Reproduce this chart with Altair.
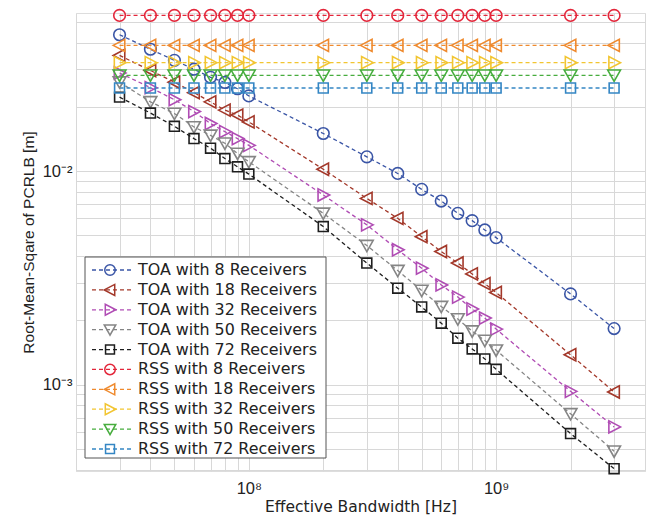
import altair as alt
import pandas as pd

bandwidth = [3e7, 4e7, 5e7, 6e7, 7e7, 8e7, 9e7, 1e8, 2e8, 3e8, 4e8, 5e8, 6e8, 7e8, 8e8, 9e8, 1e9, 2e9, 3e9]

series_names = [
    "TOA with 8 Receivers", "TOA with 18 Receivers", "TOA with 32 Receivers",
    "TOA with 50 Receivers", "TOA with 72 Receivers",
    "RSS with 8 Receivers", "RSS with 18 Receivers", "RSS with 32 Receivers",
    "RSS with 50 Receivers", "RSS with 72 Receivers",
]

toa_8 = [0.0435, 0.0372, 0.0330, 0.0300, 0.0275, 0.0260, 0.0243, 0.0225, 0.0150, 0.01166, 0.00975,
         0.00821, 0.00724, 0.00634, 0.00586, 0.0053, 0.00488, 0.00266, 0.00183]
toa_18 = [0.0348, 0.0296, 0.0261, 0.0233, 0.0211, 0.0193, 0.0183, 0.0170, 0.0102, 0.00745, 0.00601,
          0.00493, 0.0042, 0.00371, 0.0033, 0.00297, 0.0027, 0.00138, 0.000924]
toa_32 = [0.0288, 0.0246, 0.0216, 0.0190, 0.0167, 0.0153, 0.0142, 0.0132, 0.00773, 0.0056, 0.00428,
          0.00351, 0.00293, 0.00257, 0.00226, 0.00205, 0.00182, 0.00093, 0.000634]
toa_50 = [0.0261, 0.0211, 0.0186, 0.0161, 0.0147, 0.0135, 0.0121, 0.01105, 0.00634, 0.00448, 0.00342,
          0.00276, 0.00232, 0.00203, 0.00178, 0.00161, 0.00145, 0.00073, 0.000488]
toa_72 = [0.0222, 0.0187, 0.0162, 0.0142, 0.0128, 0.01145, 0.01047, 0.00968, 0.0055, 0.00371, 0.00283,
          0.00231, 0.00194, 0.00165, 0.00147, 0.00132, 0.00118, 0.00059, 0.000404]
rss_8 = [0.0536, 0.0536, 0.0536, 0.0536, 0.0536, 0.0536, 0.0536, 0.0536, 0.0536, 0.0536, 0.0536,
         0.0536, 0.0536, 0.0536, 0.0536, 0.0536, 0.0536, 0.0536, 0.0536]
rss_18 = [0.0388, 0.0388, 0.0388, 0.0388, 0.0388, 0.0388, 0.0388, 0.0388, 0.0388, 0.0388, 0.0388,
          0.0388, 0.0388, 0.0388, 0.0388, 0.0388, 0.0388, 0.0388, 0.0388]
rss_32 = [0.0322, 0.0322, 0.0322, 0.0322, 0.0322, 0.0322, 0.0322, 0.0322, 0.0322, 0.0322, 0.0322,
          0.0322, 0.0322, 0.0322, 0.0322, 0.0322, 0.0322, 0.0322, 0.0322]
rss_50 = [0.0281, 0.0281, 0.0281, 0.0281, 0.0281, 0.0281, 0.0281, 0.0281, 0.0281, 0.0281, 0.0281,
          0.0281, 0.0281, 0.0281, 0.0281, 0.0281, 0.0281, 0.0281, 0.0281]
rss_72 = [0.0245, 0.0245, 0.0245, 0.0245, 0.0245, 0.0245, 0.0245, 0.0245, 0.0245, 0.0245, 0.0245,
          0.0245, 0.0245, 0.0245, 0.0245, 0.0245, 0.0245, 0.0245, 0.0245]

series_values = [toa_8, toa_18, toa_32, toa_50, toa_72, rss_8, rss_18, rss_32, rss_50, rss_72]

series_colors = ["#3a55a6", "#a3382a", "#b04cb4", "#858585", "#1e1e1e",
                 "#e3263a", "#ef8a2e", "#f2c531", "#47ad3e", "#3486c4"]

# marker outlines (custom symbol paths)
circle = "M1,0A1,1,0,1,1,-1,0A1,1,0,1,1,1,0Z"
tri_left = "M-1.1,0L0.9,-1.05L0.9,1.05Z"
tri_right = "M1.1,0L-0.9,-1.05L-0.9,1.05Z"
tri_down = "M0,1.05L-1.1,-0.9L1.1,-0.9Z"
square = "M-0.85,-0.85H0.85V0.85H-0.85Z"
series_shapes = [circle, tri_left, tri_right, tri_down, square,
                 circle, tri_left, tri_right, tri_down, square]

x_grid = [2e7, 3e7, 4e7, 5e7, 6e7, 7e7, 8e7, 9e7,
          1e8, 2e8, 3e8, 4e8, 5e8, 6e8, 7e8, 8e8, 9e8,
          1e9, 2e9, 3e9, 4e9]
y_grid = [4e-4, 5e-4, 6e-4, 7e-4, 8e-4, 9e-4,
          1e-3, 2e-3, 3e-3, 4e-3, 5e-3, 6e-3, 7e-3, 8e-3, 9e-3,
          1e-2, 2e-2, 3e-2, 4e-2, 5e-2]

rows = []
for name, vals in zip(series_names, series_values):
    for b, v in zip(bandwidth, vals):
        rows.append({"series": name, "bw": b, "val": v})
df = pd.DataFrame(rows)
legend_df = pd.DataFrame({"series": series_names})
box_df = pd.DataFrame({"k": [0]})

x_enc = alt.X(
    "bw:Q",
    scale=alt.Scale(type="log", domain=[2e7, 4e9], nice=False),
    axis=alt.Axis(
        values=x_grid,
        labelExpr="abs(log(datum.value)/LN10 - 8) < 1e-6 ? '10⁸' : (abs(log(datum.value)/LN10 - 9) < 1e-6 ? '10⁹' : '')",
        title="Effective Bandwidth [Hz]",
        labelFont="Liberation Sans", labelFontSize=16.5, labelColor="#222",
        labelPadding=9, titleFont="DejaVu Sans", titleFontSize=15.5,
        titleFontWeight="normal", titleColor="#222", titlePadding=3,
        grid=True, gridColor="#d8d8d8", ticks=False, domain=False, labelFlush=False,
    ),
)
y_scale = alt.Scale(type="log", domain=[3.94e-4, 0.055], nice=False)
y_enc = alt.Y(
    "val:Q",
    scale=y_scale,
    axis=alt.Axis(
        values=y_grid,
        labelExpr="abs(log(datum.value)/LN10 + 2) < 1e-6 ? '10⁻²' : (abs(log(datum.value)/LN10 + 3) < 1e-6 ? '10⁻³' : '')",
        title="Root-Mean-Sqare of PCRLB [m]",
        labelFont="Liberation Sans", labelFontSize=16.5, labelColor="#222",
        labelPadding=4, titleFont="Liberation Sans", titleFontSize=15.5,
        titleFontWeight="normal", titleColor="#222", titlePadding=6,
        grid=True, gridColor="#d8d8d8", ticks=False, domain=False, labelFlush=False,
    ),
)
y_enc_noaxis = alt.Y("val:Q", scale=y_scale, axis=None)

color_scale = alt.Scale(domain=series_names, range=series_colors)
shape_scale = alt.Scale(domain=series_names, range=series_shapes)
color_enc = alt.Color("series:N", scale=color_scale, legend=None)
shape_enc = alt.Shape("series:N", scale=shape_scale, legend=None)

lines = alt.Chart(df).mark_line(strokeDash=[4, 3], strokeWidth=1.3).encode(
    x=x_enc, y=y_enc, color=color_enc, detail="series:N",
)
points = alt.Chart(df).mark_point(filled=False, size=135, strokeWidth=1.6, opacity=1).encode(
    x=x_enc, y=y_enc_noaxis, color=color_enc, shape=shape_enc,
)

# legend drawn inside the plot
leg_y = alt.Y("series:N", scale=alt.Scale(type="point", domain=series_names, range=[257, 436], padding=0), axis=None)

leg_box = alt.Chart(box_df).mark_rect(fill="white", stroke="#555", strokeWidth=1).encode(
    x=alt.value(9), x2=alt.value(250), y=alt.value(244), y2=alt.value(445),
)
leg_dash = alt.Chart(legend_df).mark_rule(strokeDash=[4, 3], strokeWidth=1.3).encode(
    x=alt.value(16), x2=alt.value(57), y=leg_y, color=color_enc,
)
leg_mark = alt.Chart(legend_df).mark_point(filled=False, size=110, strokeWidth=1.5, opacity=1).encode(
    x=alt.value(34), y=leg_y, color=color_enc, shape=shape_enc,
)
leg_text = alt.Chart(legend_df).mark_text(align="left", baseline="middle", font="DejaVu Sans",
                                          fontSize=15.9, color="#222").encode(
    x=alt.value(62), y=leg_y, text="series:N",
)

chart = alt.layer(lines, points, leg_box, leg_dash, leg_mark, leg_text).resolve_scale(
    y="independent"
).properties(
    width=569, height=458,
    autosize=alt.AutoSizeParams(type="none"),
    padding={"left": 68, "top": 5, "right": 2, "bottom": 46},
).configure_view(stroke="#444", strokeWidth=1).configure(background="white")

chart.save("out.html", embed_options={"renderer": "svg", "actions": False})
